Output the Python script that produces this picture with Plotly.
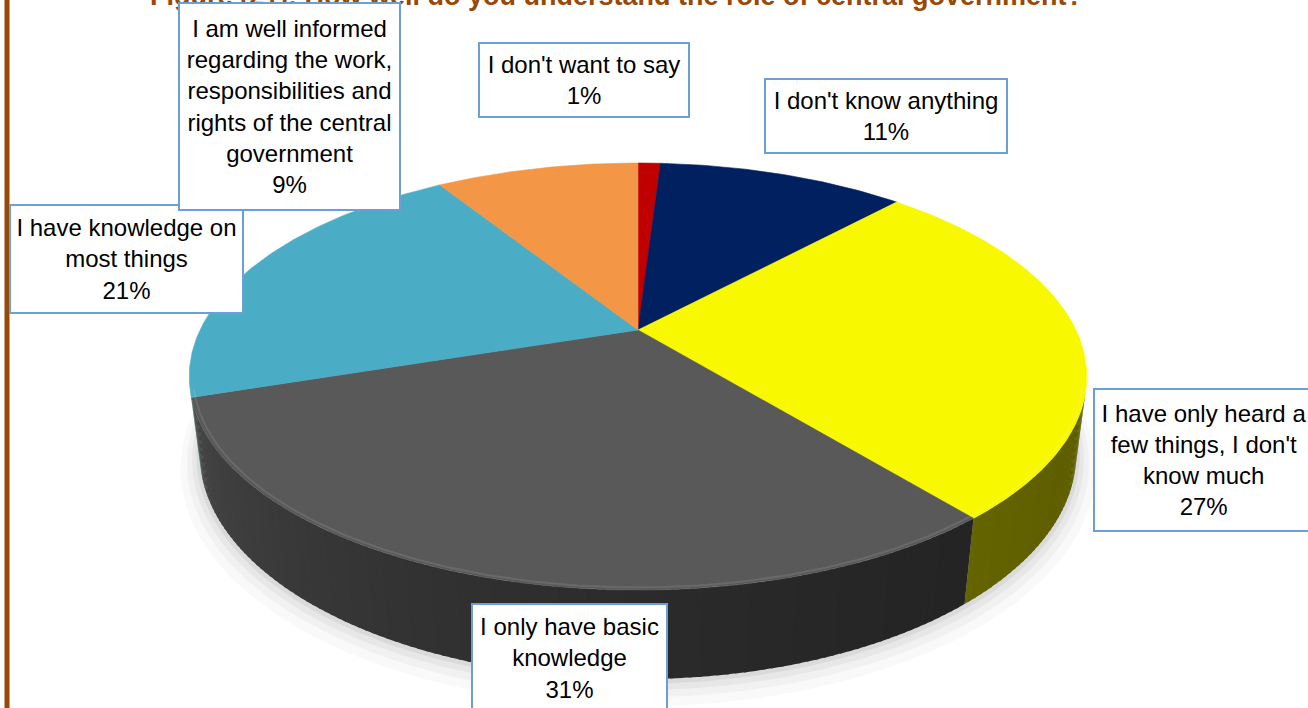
import numpy as np
import plotly.graph_objects as go

# ---- data -------------------------------------------------------------
categories = [
    "I don't want to say",
    "I don't know anything",
    "I have only heard a<br>few things, I don't<br>know much",
    "I only have basic<br>knowledge",
    "I have knowledge on<br>most things",
    "I am well informed<br>regarding the work,<br>responsibilities and<br>rights of the central<br>government",
]
values = [1, 11, 27, 31, 21, 9]
top_colors = ["#C00000", "#002060", "#F8F800", "#595959", "#4BACC6", "#F39646"]

title_text = "Figure (21): How well do you understand the role of central government?"

# label boxes in page pixels: x0, x1, y0, y1
label_boxes = [
    (479, 689, 43, 117),
    (765, 1007, 79, 153),
    (1094, 1314, 389, 531),
    (472, 667, 604, 712),
    (10, 243, 205, 313),
    (179, 400, 3, 210),
]

# ---- 3-D pie geometry (perspective view of a tilted disc) -------------
W, H = 1308, 708
CX, CY = 638.0, 330.0
ALPHA = np.radians(27.67)
DIST = 4.062
FOCAL = 1779.0
THICK = 0.2


def project(theta_deg, r=1.0, z=0.0):
    t = np.radians(np.asarray(theta_deg, dtype=float))
    X = r * np.sin(t)
    Yd = r * np.cos(t)
    w = DIST + Yd * np.cos(ALPHA) - z * np.sin(ALPHA)
    v = Yd * np.sin(ALPHA) + z * np.cos(ALPHA)
    return CX + FOCAL * X / w, CY - FOCAL * v / w


def shade(hex_color, f):
    h = hex_color.lstrip("#")
    rgb = [int(h[i:i + 2], 16) for i in (0, 2, 4)]
    rgb = [max(0, min(255, int(round(c * f)))) for c in rgb]
    return "rgb({},{},{})".format(*rgb)


total = float(sum(values))
bounds = np.concatenate([[0.0], np.cumsum(values) / total * 360.0])

fig = go.Figure()

# soft shadow under the base
for e, a in [(0.045, 0.022), (0.03, 0.03), (0.018, 0.04), (0.008, 0.055)]:
    th = np.linspace(0, 360, 361)
    sx, sy = project(th, r=1.0 + e, z=-THICK - e * 0.6)
    fig.add_trace(go.Scatter(x=sx, y=sy, mode="lines", fill="toself",
                             fillcolor=f"rgba(0,0,0,{a})", line=dict(width=0),
                             hoverinfo="skip", showlegend=False))

# visible part of the outer wall
vis_lo = np.degrees(np.arccos(-1.0 / (DIST * np.cos(ALPHA))))
vis_hi = 360.0 - vis_lo

for i, col in enumerate(top_colors):
    a0 = max(bounds[i], vis_lo)
    a1 = min(bounds[i + 1], vis_hi)
    if a1 <= a0:
        continue
    n = int(np.ceil((a1 - a0) / 1.0))
    edges = np.linspace(a0, a1, n + 1)
    for k, (s0, s1) in enumerate(zip(edges[:-1], edges[1:])):
        # overlap each strip a little into the next so no seams show
        s1x = min(s1 + 0.4, a1) if k < n - 1 else s1
        th = np.linspace(s0, s1x, 4)
        tx, ty = project(th, z=0.0)
        bx, by = project(th[::-1], z=-THICK)
        mid = 0.5 * (s0 + s1)
        f = 0.38 + 0.42 * ((mid - vis_lo) / (vis_hi - vis_lo)) ** 2
        c = shade(col, f)
        fig.add_trace(go.Scatter(x=np.r_[tx, bx], y=np.r_[ty, by], mode="lines",
                                 fill="toself", fillcolor=c,
                                 line=dict(width=0),
                                 hoverinfo="skip", showlegend=False))

# top faces of the slices
for i, col in enumerate(top_colors):
    th = np.linspace(bounds[i], bounds[i + 1], max(3, int((bounds[i + 1] - bounds[i]) * 2)))
    ax, ay = project(th)
    fig.add_trace(go.Scatter(x=np.r_[CX, ax, CX], y=np.r_[CY, ay, CY], mode="lines",
                             fill="toself", fillcolor=col,
                             line=dict(width=0.6, color=col),
                             hoverinfo="skip", showlegend=False))

# bevel highlight on the front rim
th = np.linspace(vis_lo, vis_hi, 200)
hx, hy = project(th, r=0.992)
fig.add_trace(go.Scatter(x=hx, y=hy, mode="lines",
                         line=dict(width=2, color="rgba(255,255,255,0.1)"),
                         hoverinfo="skip", showlegend=False))

# ---- data labels -----------------------------------------------------
annotations = []
order = [4, 0, 1, 2, 3, 5]
for i in order:
    x0, x1, y0, y1 = label_boxes[i]
    annotations.append(dict(
        x=(x0 + x1) / 2, y=(y0 + y1) / 2, xref="x", yref="y",
        xanchor="center", yanchor="middle",
        text=f"{categories[i]}<br>{values[i]}%",
        showarrow=False, align="center",
        width=x1 - x0 - 2, height=y1 - y0 - 2,
        bgcolor="white", bordercolor="#6A9FD8", borderwidth=2, borderpad=0,
        font=dict(family="Liberation Sans, Arial, sans-serif", size=24, color="black"),
    ))

# title sits mostly above the top edge of the page
annotations.insert(0, dict(
    x=616 / W, y=1 - 13 / H, xref="paper", yref="paper",
    xanchor="center", yanchor="bottom",
    text=f"<b>{title_text}</b>", showarrow=False,
    font=dict(family="Liberation Sans, Arial, sans-serif", size=27, color="#984807"),
))

fig.update_layout(
    width=W, height=H,
    margin=dict(l=0, r=0, t=0, b=0),
    paper_bgcolor="white", plot_bgcolor="white",
    showlegend=False,
    xaxis=dict(range=[0, W], visible=False, fixedrange=True),
    yaxis=dict(range=[H, 0], visible=False, fixedrange=True),
    annotations=annotations,
    shapes=[dict(type="line", xref="x", yref="y", x0=7, x1=7, y0=-5, y1=H + 5,
                 line=dict(color="#984807", width=5), layer="above")],
)

fig.write_html("out.html")
